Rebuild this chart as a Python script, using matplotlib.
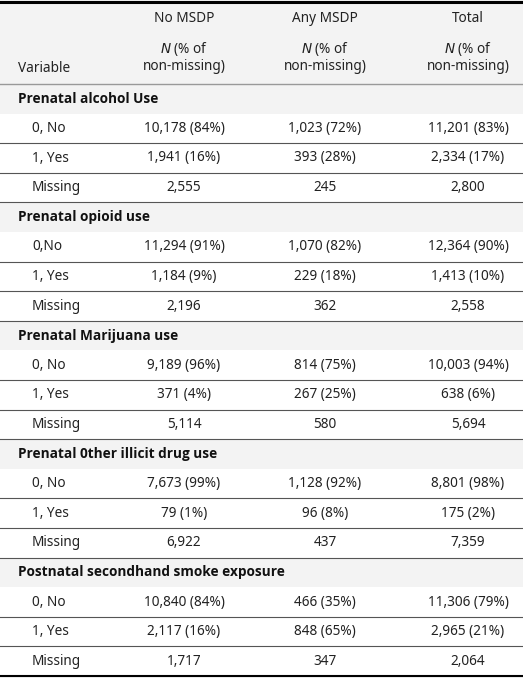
import matplotlib.pyplot as plt
from matplotlib.patches import Rectangle

plt.rcParams['font.family'] = ['Noto Sans', 'DejaVu Sans']

columns = ["No MSDP", "Any MSDP", "Total"]
groups = ["Prenatal alcohol Use", "Prenatal opioid use", "Prenatal Marijuana use",
          "Prenatal 0ther illicit drug use", "Postnatal secondhand smoke exposure"]
row_labels = [["0, No", "1, Yes", "Missing"],
              ["0,No", "1, Yes", "Missing"],
              ["0, No", "1, Yes", "Missing"],
              ["0, No", "1, Yes", "Missing"],
              ["0, No", "1, Yes", "Missing"]]
no_msdp = [["10,178 (84%)", "1,941 (16%)", "2,555"],
           ["11,294 (91%)", "1,184 (9%)", "2,196"],
           ["9,189 (96%)", "371 (4%)", "5,114"],
           ["7,673 (99%)", "79 (1%)", "6,922"],
           ["10,840 (84%)", "2,117 (16%)", "1,717"]]
any_msdp = [["1,023 (72%)", "393 (28%)", "245"],
            ["1,070 (82%)", "229 (18%)", "362"],
            ["814 (75%)", "267 (25%)", "580"],
            ["1,128 (92%)", "96 (8%)", "437"],
            ["466 (35%)", "848 (65%)", "347"]]
total = [["11,201 (83%)", "2,334 (17%)", "2,800"],
         ["12,364 (90%)", "1,413 (10%)", "2,558"],
         ["10,003 (94%)", "638 (6%)", "5,694"],
         ["8,801 (98%)", "175 (2%)", "7,359"],
         ["11,306 (79%)", "2,965 (21%)", "2,064"]]

W, H = 523, 681
fig = plt.figure(figsize=(W / 100, H / 100), dpi=100)
ax = fig.add_axes([0, 0, 1, 1])
ax.set_xlim(0, W)
ax.set_ylim(H, 0)
ax.axis('off')

col_x = [184, 325, 468]
fs = 9.8
grey = '#f3f3f3'
head_h = 84
row_h = 29.6

ax.add_patch(Rectangle((0, 0), W, head_h, color=grey, lw=0))
ax.plot([0, W], [1.5, 1.5], color='black', lw=2.2)
for x, c in zip(col_x, columns):
    ax.text(x, 19, c, ha='center', va='center', fontsize=fs, color='#222222')
    ax.text(x, 57, "$\\it{N}$ (% of\nnon-missing)", ha='center', va='center',
            fontsize=fs, color='#222222', linespacing=1.15)
ax.text(18, 68, "Variable", ha='left', va='center', fontsize=fs, color='#222222')
ax.plot([0, W], [head_h, head_h], color='#999999', lw=1)

y = head_h
for g in range(len(groups)):
    ax.add_patch(Rectangle((0, y), W, row_h, color=grey, lw=0))
    ax.text(18, y + row_h / 2, groups[g], ha='left', va='center', fontsize=fs,
            fontweight='bold', family=['Open Sans', 'DejaVu Sans'], color='#111111')
    y += row_h
    for r in range(3):
        if r > 0:
            ax.plot([0, W], [y, y], color='#555555', lw=0.8)
        yc = y + row_h / 2
        ax.text(32, yc, row_labels[g][r], ha='left', va='center', fontsize=fs, color='#222222')
        for x, vals in zip(col_x, [no_msdp, any_msdp, total]):
            ax.text(x, yc, vals[g][r], ha='center', va='center', fontsize=fs, color='#222222')
        y += row_h
    ax.plot([0, W], [y, y], color='#555555', lw=0.8)
ax.plot([0, W], [y, y], color='black', lw=1.5)

fig.savefig('out.png', dpi=100)
